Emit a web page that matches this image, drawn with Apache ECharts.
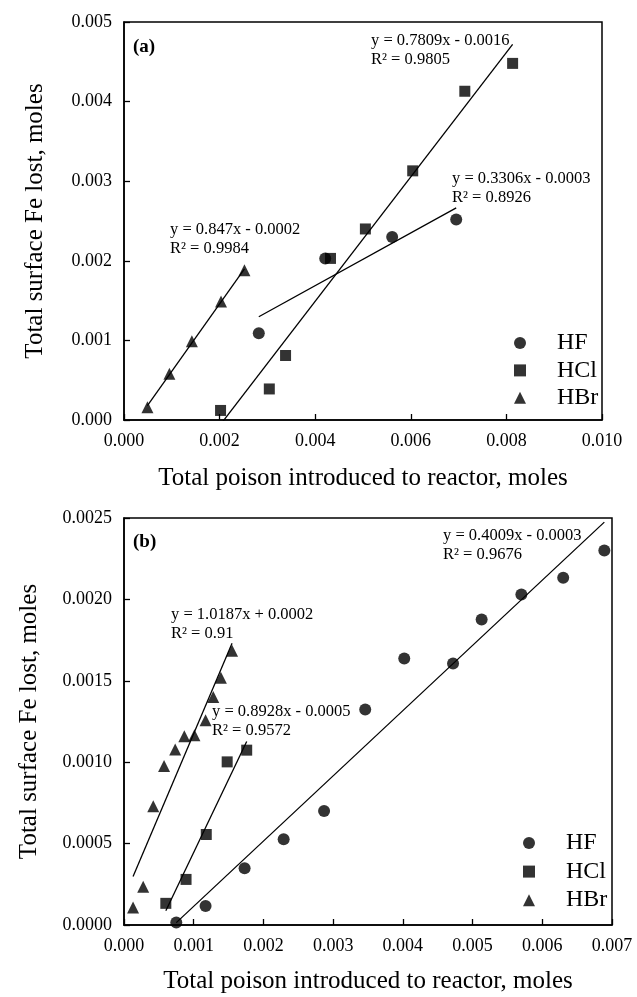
<!DOCTYPE html>
<html>
<head>
<meta charset="utf-8">
<script src="https://cdn.jsdelivr.net/npm/echarts@6/dist/echarts.min.js"></script>
<style>html,body{margin:0;padding:0;background:#fff}#c{width:637px;height:997px}</style>
</head>
<body>
<div id="c"></div>
<script>
// ---------- data ----------
const seriesNames = ['HF', 'HCl', 'HBr'];

// Panel (a)
const aHF_x  = [0.00282, 0.00421, 0.00561, 0.00695];
const aHF_y  = [0.00109, 0.00203, 0.00230, 0.00252];
const aHCl_x = [0.00202, 0.00304, 0.00338, 0.00432, 0.00505, 0.00604, 0.00713, 0.00813];
const aHCl_y = [0.00012, 0.00039, 0.00081, 0.00203, 0.00240, 0.00313, 0.00413, 0.00448];
const aHBr_x = [0.00049, 0.00095, 0.00142, 0.00203, 0.00252];
const aHBr_y = [0.00016, 0.00058, 0.00099, 0.00149, 0.00188];

// Panel (b)
const bHF_x  = [0.00075, 0.00117, 0.00173, 0.00229, 0.00287, 0.00346, 0.00402, 0.00472, 0.00513, 0.00570, 0.00630, 0.00689];
const bHF_y  = [0.000015, 0.000117, 0.000348, 0.000526, 0.000700, 0.001324, 0.001637, 0.001606, 0.001876, 0.002030, 0.002133, 0.002300];
const bHCl_x = [0.00060, 0.00089, 0.00118, 0.00148, 0.00176];
const bHCl_y = [0.000133, 0.000280, 0.000556, 0.001002, 0.001074];
const bHBr_x = [0.00013, 0.000275, 0.00042, 0.000575, 0.000734, 0.000865, 0.00101, 0.00117, 0.00128, 0.00139, 0.00155];
const bHBr_y = [0.000108, 0.000235, 0.00073, 0.000976, 0.001078, 0.00116, 0.001166, 0.001258, 0.0014, 0.001518, 0.001684];

// tick labels
const aXTicks = ['0.000', '0.002', '0.004', '0.006', '0.008', '0.010'];
const aYTicks = ['0.000', '0.001', '0.002', '0.003', '0.004', '0.005'];
const bXTicks = ['0.000', '0.001', '0.002', '0.003', '0.004', '0.005', '0.006', '0.007'];
const bYTicks = ['0.0000', '0.0005', '0.0010', '0.0015', '0.0020', '0.0025'];

// texts
const panelLabels = ['(a)', '(b)'];
const xTitle = 'Total poison introduced to reactor, moles';
const yTitle = 'Total surface Fe lost, moles';
const aEquations = ['y = 0.7809x - 0.0016\nR² = 0.9805', 'y = 0.3306x - 0.0003\nR² = 0.8926', 'y = 0.847x - 0.0002\nR² = 0.9984'];
const bEquations = ['y = 0.4009x - 0.0003\nR² = 0.9676', 'y = 1.0187x + 0.0002\nR² = 0.91', 'y = 0.8928x - 0.0005\nR² = 0.9572'];

// ---------- helpers ----------
const FONT = '"Liberation Serif", "Times New Roman", serif';
const symbols = { HF: 'circle', HCl: 'rect', HBr: 'triangle' };
const symSizes = { HF: 12, HCl: 11, HBr: 12 };

function pairs(xs, ys) { return xs.map((x, i) => [x, ys[i]]); }
function fitLine(xs, ys) {
  const n = xs.length;
  const mx = xs.reduce((a, b) => a + b, 0) / n;
  const my = ys.reduce((a, b) => a + b, 0) / n;
  let sxy = 0, sxx = 0;
  for (let i = 0; i < n; i++) { sxy += (xs[i] - mx) * (ys[i] - my); sxx += (xs[i] - mx) * (xs[i] - mx); }
  const k = sxy / sxx, b = my - k * mx;
  const x0 = Math.min(...xs), x1 = Math.max(...xs);
  return [[x0, k * x0 + b], [x1, k * x1 + b]];
}
function valueAxis(gridIndex, ticks, isX, name, nameGap) {
  const min = +ticks[0], max = +ticks[ticks.length - 1], interval = +ticks[1] - +ticks[0];
  return {
    gridIndex, type: 'value', min, max, interval, name, nameGap,
    axisLine: { show: true, onZero: false, lineStyle: { color: '#000', width: 1.5 } },
    axisTick: { show: true, inside: true, length: 6, lineStyle: { color: '#000', width: 1.3 } },
    splitLine: { show: false },
    axisLabel: {
      color: '#000', fontFamily: FONT, fontSize: 18, showMinLabel: true, showMaxLabel: true,
      margin: 12,
      formatter: v => { const i = Math.round((v - min) / interval); return ticks[i] !== undefined ? ticks[i] : ''; }
    },
    nameLocation: 'middle',
    nameTextStyle: { color: '#000', fontFamily: FONT, fontSize: 25 }
  };
}
function scatter(name, xi, yi, xs, ys) {
  return {
    type: 'scatter', name, xAxisIndex: xi, yAxisIndex: yi, data: pairs(xs, ys),
    symbol: symbols[name], symbolSize: symSizes[name],
    itemStyle: { color: '#000' }, z: 3, silent: true
  };
}
function trend(xi, yi, xs, ys) {
  return {
    type: 'line', xAxisIndex: xi, yAxisIndex: yi, data: fitLine(xs, ys),
    symbol: 'none', showSymbol: false, clip: true, silent: true,
    lineStyle: { color: '#000', width: 1.3 }, z: 2
  };
}
function legend(left, top, gap) {
  return {
    data: seriesNames.map(n => ({ name: n, icon: symbols[n] })),
    orient: 'vertical', left, top, padding: 0, itemWidth: 12, itemHeight: 12, itemGap: gap,
    selectedMode: false, inactiveColor: '#000',
    textStyle: { color: '#000', fontFamily: FONT, fontSize: 24, lineHeight: 20, padding: [0, 0, 0, 26] }
  };
}
function eqText(text, left, top) {
  return { type: 'text', left, top, style: { text, font: '16.5px ' + FONT, fill: '#000', lineHeight: 19 } };
}
function panelText(text, left, top) {
  return { type: 'text', left, top, style: { text, font: 'bold 19px ' + FONT, fill: '#000' } };
}

const option = {
  animation: false,
  backgroundColor: '#fff',
  grid: [
    { left: 124, top: 22, width: 478, height: 398, show: true, borderColor: '#000', borderWidth: 1.5, backgroundColor: 'transparent' },
    { left: 124, top: 518, width: 488, height: 407, show: true, borderColor: '#000', borderWidth: 1.5, backgroundColor: 'transparent' }
  ],
  xAxis: [
    valueAxis(0, aXTicks, true, xTitle, 46),
    valueAxis(1, bXTicks, true, xTitle, 44)
  ],
  yAxis: [
    valueAxis(0, aYTicks, false, yTitle, 76),
    valueAxis(1, bYTicks, false, yTitle, 82)
  ],
  legend: [legend(514, 331, 3.4), legend(523, 831, 4.6)],
  series: [
    trend(0, 0, aHF_x, aHF_y), trend(0, 0, aHCl_x, aHCl_y), trend(0, 0, aHBr_x, aHBr_y),
    scatter('HF', 0, 0, aHF_x, aHF_y), scatter('HCl', 0, 0, aHCl_x, aHCl_y), scatter('HBr', 0, 0, aHBr_x, aHBr_y),
    trend(1, 1, bHF_x, bHF_y), trend(1, 1, bHCl_x, bHCl_y), trend(1, 1, bHBr_x, bHBr_y),
    scatter('HF', 1, 1, bHF_x, bHF_y), scatter('HCl', 1, 1, bHCl_x, bHCl_y), scatter('HBr', 1, 1, bHBr_x, bHBr_y)
  ],
  graphic: [
    panelText(panelLabels[0], 133, 38),
    eqText(aEquations[0], 371, 31),
    eqText(aEquations[1], 452, 169),
    eqText(aEquations[2], 170, 220),
    panelText(panelLabels[1], 133, 533),
    eqText(bEquations[0], 443, 526),
    eqText(bEquations[1], 171, 605),
    eqText(bEquations[2], 212, 702)
  ]
};

const chart = echarts.init(document.getElementById('c'), null, { renderer: 'canvas' });
chart.setOption(option);
</script>
</body>
</html>
